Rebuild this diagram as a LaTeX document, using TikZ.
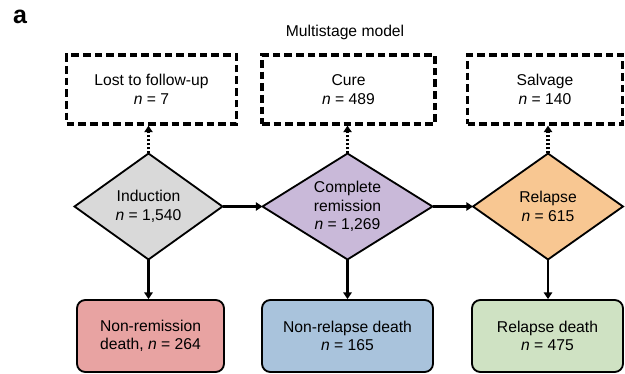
\documentclass[tikz,border=0pt]{standalone}
\usepackage{fontspec}
\setmainfont{Liberation Sans}
\usetikzlibrary{shapes.geometric,arrows.meta}
\definecolor{indgray}{HTML}{D9D9D9}
\definecolor{crpurple}{HTML}{C9B9D9}
\definecolor{relorange}{HTML}{F8C792}
\definecolor{nrred}{HTML}{E8A3A2}
\definecolor{nrdblue}{HTML}{A9C3DC}
\definecolor{rdgreen}{HTML}{CFE2C3}
\begin{document}
\begin{tikzpicture}[x=0.6pt,y=-0.6pt,
  font=\fontsize{9.4}{11.1}\selectfont,
  outcome/.style={draw, line width=1.9pt, dash pattern=on 4.6pt off 2.4pt,
    minimum height=41.4pt, inner sep=0pt, align=center},
  stage/.style={diamond, draw, line width=1.1pt, inner sep=0pt, outer sep=0pt,
    minimum height=63.6pt},
  stagetext/.style={align=center, inner sep=0pt},
  death/.style={draw, line width=1.1pt, rounded corners=5pt,
    minimum height=43.2pt, inner sep=0pt, align=center},
  flow/.style={line width=1.6pt, -{Triangle[length=4pt,width=5pt]}},
  exit/.style={line width=2pt, dash pattern=on 1.3pt off 1.1pt,
    -{Triangle[length=4pt,width=5pt]}}]
\useasboundingbox (0,0) rectangle (625,374);

% panel letter and title
\node[font=\fontsize{15}{17}\bfseries\selectfont] (panel) at (20,17) {a};
\node (title) at (345,32) {Multistage model};

% absorbing outcomes along the top
\node[outcome, minimum width=102pt] (lost) at (151.5,89.5) {Lost to follow-up\\\textit{n} = 7};
\node[outcome, minimum width=103.8pt] (cure) at (348.5,89.5) {Cure\\\textit{n} = 489};
\node[outcome, minimum width=93pt] (salv) at (545,89.5) {Salvage\\\textit{n} = 140};

% disease stages
\node[stage, fill=indgray, minimum width=88.8pt] (ind) at (148.5,206.5) {};
\node[stagetext] (indtxt) at (ind) {Induction\\\textit{n} = 1,540};
\node[stage, fill=crpurple, minimum width=102pt] (cr) at (347.5,206.5) {};
\node[stagetext] (crtxt) at (cr) {Complete\\remission\\\textit{n} = 1,269};
\node[stage, fill=relorange, minimum width=90pt] (rel) at (548,206.5) {};
\node[stagetext] (reltxt) at (rel) {Relapse\\\textit{n} = 615};

% death outcomes
\node[death, fill=nrred, minimum width=88.2pt] (nrm) at (150.5,336) {Non-remission\\death, \textit{n} = 264};
\node[death, fill=nrdblue, minimum width=102.6pt] (nrd) at (347.5,336) {Non-relapse death\\\textit{n} = 165};
\node[death, fill=rdgreen, minimum width=90.6pt] (rd) at (547.5,336) {Relapse death\\\textit{n} = 475};

% transitions between stages
\draw[flow] (ind.east) -- (cr.west);
\draw[flow] (cr.east) -- (rel.west);

% transitions to death
\draw[flow] (ind.south) -- (ind.south |- nrm.north);
\draw[flow] (cr.south) -- (cr.south |- nrd.north);
\draw[flow] (rel.south) -- (rel.south |- rd.north);

% transitions to other outcomes
\draw[exit] (ind.north) -- (ind.north |- lost.south);
\draw[exit] (cr.north) -- (cr.north |- cure.south);
\draw[exit] (rel.north) -- (rel.north |- salv.south);
\end{tikzpicture}
\end{document}
